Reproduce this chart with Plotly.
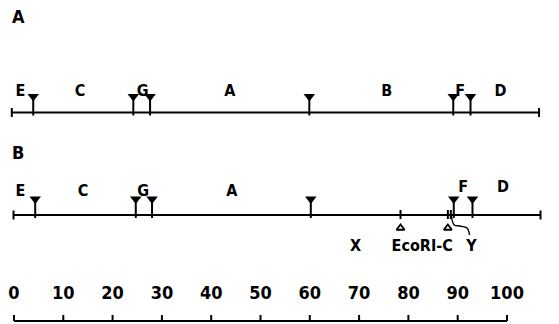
import plotly.graph_objects as go

# ---- data (map units, same scale as the 0-100 bar) ----
scale_ticks = [0, 10, 20, 30, 40, 50, 60, 70, 80, 90, 100]
scale_labels = [str(v) for v in scale_ticks]

mapA_ends = [-0.45, 106.5]
mapA_sites = [3.9, 24.2, 27.6, 59.9, 89.1, 92.6]
mapA_frag_names = ["E", "C", "G", "A", "B", "F", "D"]
mapA_frag_pos = [1.3, 13.4, 26.1, 43.8, 75.6, 90.5, 98.7]

mapB_ends = [-0.1, 106.8]
mapB_sites = [4.3, 24.7, 28.0, 60.2, 89.2, 93.0]
mapB_frag_names = ["E", "C", "G", "A", "F", "D"]
mapB_frag_pos = [1.3, 14.0, 26.2, 44.2, 91.1, 99.2]
mapB_open_sites = [78.4, 88.0]
mapB_extra_tick = [88.6]
mapB_below_names = ["X", "EcoRI-C", "Y"]
mapB_below_pos = [69.3, 82.8, 92.8]

# ---- layout helpers (pixel rows) ----
W, H = 559, 324
X0_PX, PX_PER_U = 14.0, 4.93
rowA, rowB, rowS = 112.5, 215, 321
FONT = "DejaVu Sans Condensed, Roboto, sans-serif"

fig = go.Figure()

def seg(x0, x1, y0, y1, w=2):
    fig.add_trace(go.Scatter(x=[x0, x1], y=[y0, y1], mode="lines",
                             line=dict(color="black", width=w),
                             hoverinfo="skip", showlegend=False))

def label(xs, ys, texts, size=15):
    fig.add_trace(go.Scatter(x=xs, y=ys, mode="text", text=texts,
                             textfont=dict(family=FONT, size=size, color="black", weight="bold"),
                             textposition="middle center",
                             hoverinfo="skip", showlegend=False))

def map_row(y, ends, sites, names, npos, label_dys):
    seg(ends[0], ends[1], y, y)
    for e in ends:
        seg(e, e, y - 4.5, y + 4.5)
    for s in sites:
        seg(s, s, y - 14, y + 3)
    fig.add_trace(go.Scatter(x=sites, y=[y - 16] * len(sites), mode="markers",
                             marker=dict(symbol="triangle-down", size=10, color="black"),
                             hoverinfo="skip", showlegend=False))
    label(npos, [y + d for d in label_dys], names, size=16)

map_row(rowA, mapA_ends, mapA_sites, mapA_frag_names, mapA_frag_pos, [-21] * 7)
map_row(rowB, mapB_ends, mapB_sites, mapB_frag_names, mapB_frag_pos, [-23, -23, -23, -23, -27, -27])

# open triangles below row B
for s in mapB_open_sites + mapB_extra_tick:
    seg(s, s, rowB - 5, rowB + 4)
fig.add_trace(go.Scatter(x=mapB_open_sites, y=[rowB + 13] * len(mapB_open_sites), mode="markers",
                         marker=dict(symbol="triangle-up-open", size=7, color="black",
                                     line=dict(width=1.8, color="black")),
                         hoverinfo="skip", showlegend=False))
# wavy connector to Y
fig.add_trace(go.Scatter(x=[88.7, 89.3, 90.4, 91.9, 92.4], y=[rowB + 1, rowB + 10, rowB + 11, rowB + 13, rowB + 20],
                         mode="lines", line=dict(color="black", width=1.4, shape="spline"),
                         hoverinfo="skip", showlegend=False))
label(mapB_below_pos, [rowB + 32] * 3, mapB_below_names, size=16)

# scale bar
seg(scale_ticks[0], scale_ticks[-1], rowS, rowS)
for t in scale_ticks:
    seg(t, t, rowS - 6, rowS)
label(scale_ticks, [rowS - 27] * len(scale_ticks), scale_labels, size=18)

# panel letters
fig.add_annotation(x=(18 - X0_PX) / PX_PER_U, y=16, text="A", showarrow=False,
                   font=dict(family=FONT, size=18, color="black", weight="bold"))
fig.add_annotation(x=(18 - X0_PX) / PX_PER_U, y=152, text="B", showarrow=False,
                   font=dict(family=FONT, size=18, color="black", weight="bold"))

fig.update_layout(
    width=W, height=H, margin=dict(l=0, r=0, t=0, b=0),
    paper_bgcolor="white", plot_bgcolor="white",
    xaxis=dict(range=[-X0_PX / PX_PER_U, (W - X0_PX) / PX_PER_U], visible=False, fixedrange=True),
    yaxis=dict(range=[H, 0], visible=False, fixedrange=True),
)
fig.write_html("out.html", config={"displayModeBar": False},
               post_script="document.body.style.margin='0';document.body.style.padding='0';document.body.style.overflow='hidden';")
